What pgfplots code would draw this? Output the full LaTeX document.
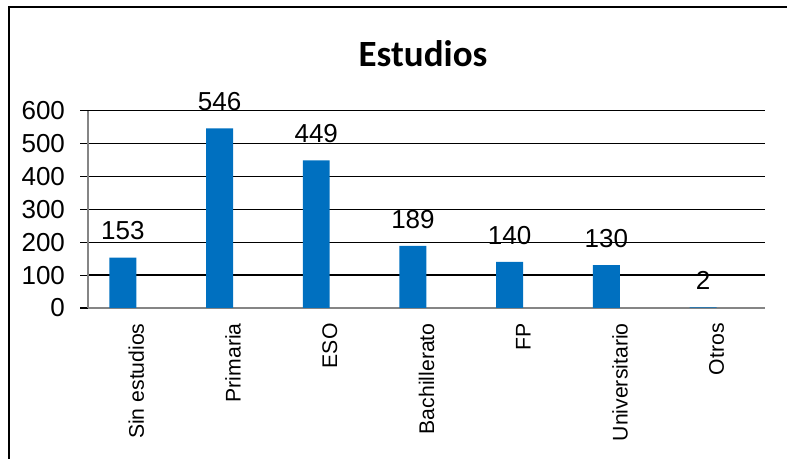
\documentclass[border=0pt]{standalone}
\usepackage{pgfplots}
\pgfplotsset{compat=1.18}
\usepackage{fontspec}
\setmainfont{Liberation Sans}
\newfontfamily\titlefont{Carlito}
\definecolor{barblue}{HTML}{0070C0}
\definecolor{axgray}{HTML}{858585}
\begin{document}
\begin{tikzpicture}
\useasboundingbox (0,0) rectangle (393.5pt,229.5pt);
\draw[black, line width=0.8pt] (4.5pt,0pt) -- (4.5pt,226pt) -- (393.5pt,226pt);
\node[anchor=base, font=\titlefont\bfseries\fontsize{18.5}{20}\selectfont, inner sep=0pt] at (211.5pt,196pt) {Estudios};
\begin{axis}[
  at={(44pt,75.5pt)}, anchor=south west,
  scale only axis, width=338.5pt, height=98.65pt,
  xmin=0, xmax=7, ymin=0, ymax=600,
  axis x line*=bottom, axis y line*=left,
  axis line style={axgray, line width=1pt},
  ytick={0,100,...,600},
  ymajorgrids, grid style={black, line width=0.7pt},
  tick align=outside,
  major tick length=4pt,
  y tick style={black, line width=0.6pt},
  yticklabel style={font=\fontsize{13}{13}\selectfont, xshift=-4pt},
  /pgf/number format/assume math mode=true,
  xtick={0.5,1.5,2.5,3.5,4.5,5.5,6.5},
  xticklabels={Sin estudios,Primaria,ESO,Bachillerato,FP,Universitario,Otros},
  x tick style={draw=none},
  xticklabel style={font=\fontsize{10.6}{12}\selectfont, yshift=-2.5pt, rotate=90, anchor=east, inner sep=1pt},
  extra x ticks={0,1,2,3,4,5,6,7},
  extra x tick labels={},
  extra x tick style={grid=none, tick style={draw=axgray, line width=0.8pt}},
  ybar, bar width=0.279, bar shift=0pt,
  nodes near coords,
  every node near coord/.append style={anchor=base, yshift=8.85pt, font=\fontsize{13}{13}\selectfont, black},
  clip=false,
]
\addplot[fill=barblue, draw=none] coordinates {(0.36,153) (1.36,546) (2.36,449) (3.36,189) (4.36,140) (5.36,130) (6.36,2)};
\end{axis}
\end{tikzpicture}
\end{document}
